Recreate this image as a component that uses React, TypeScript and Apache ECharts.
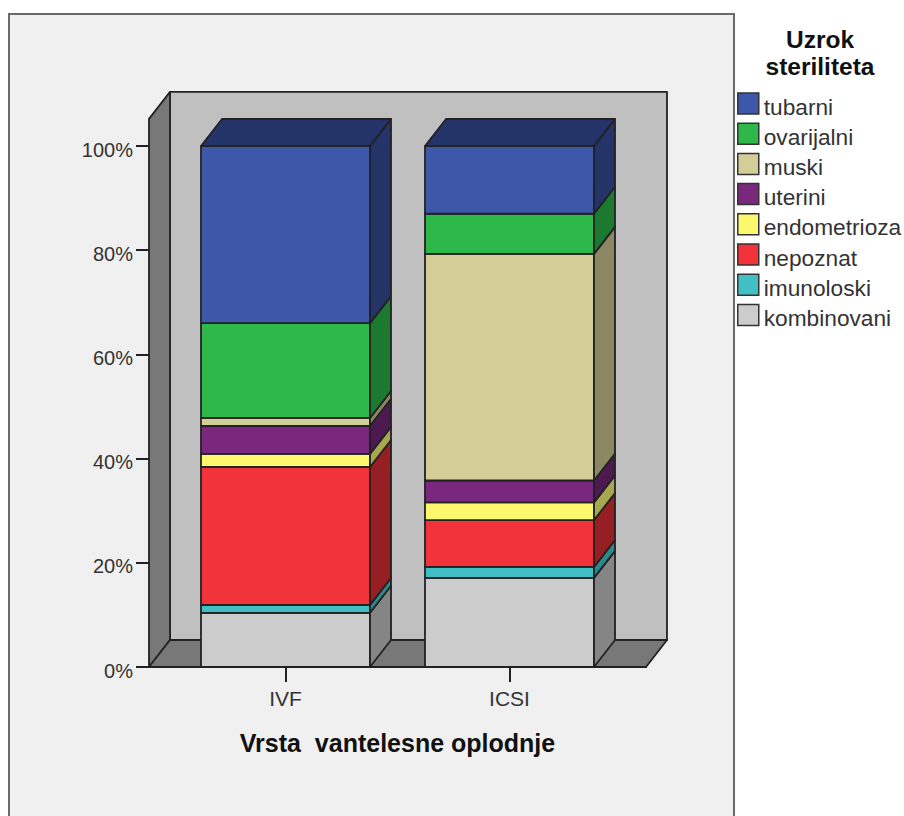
import React, { useEffect, useRef } from "react";
import * as echarts from "echarts";

const categories = ["IVF", "ICSI"];
const causes = ["kombinovani", "imunoloski", "nepoznat", "endometrioza", "uterini", "muski", "ovarijalni", "tubarni"];
const kombinovani = [10.4, 17.1];
const imunoloski = [1.5, 2.1];
const nepoznat = [26.5, 9.0];
const endometrioza = [2.5, 3.4];
const uterini = [5.4, 4.2];
const muski = [1.5, 43.5];
const ovarijalni = [18.2, 7.7];
const tubarni = [34.0, 13.0];
const seriesValues = [kombinovani, imunoloski, nepoznat, endometrioza, uterini, muski, ovarijalni, tubarni];
const frontColors = ["#cccccc", "#40c0c4", "#f23339", "#fbf86d", "#79287d", "#d3ce98", "#2eb84a", "#3d57a9"];
const sideColors = ["#858585", "#2a8a8c", "#951f23", "#a8a650", "#4c1a50", "#8a8762", "#1c7a30", "#253468"];
const legendOrder = ["tubarni", "ovarijalni", "muski", "uterini", "endometrioza", "nepoznat", "imunoloski", "kombinovani"];
const tickLabels = ["0%", "20%", "40%", "60%", "80%", "100%"];

const LINE = "#222222";
const DX = 21;
const DY = 27;
const LW = 1.8;

function frameItem(_params: any, api: any) {
  const y0 = api.coord([0, 0])[1];
  const yTop = api.coord([0, 105.2])[1];
  const xl = 149;
  const xr = 646;
  const style = (fill: string) => ({ fill, stroke: LINE, lineWidth: LW, lineJoin: "round" });
  return {
    type: "group",
    children: [
      { type: "rect", shape: { x: xl + DX, y: yTop - DY, width: xr - xl, height: y0 - yTop }, style: style("#c0c0c0") },
      { type: "polygon", shape: { points: [[xl, y0], [xl + DX, y0 - DY], [xl + DX, yTop - DY], [xl, yTop]] }, style: style("#787878") },
      { type: "polygon", shape: { points: [[xl, y0], [xl + DX, y0 - DY], [xr + DX, y0 - DY], [xr, y0]] }, style: style("#787878") },
    ],
  };
}

function segmentItem(seriesIndex: number) {
  return (_params: any, api: any) => {
    const cat = api.value(0);
    const base = api.value(1);
    const top = api.value(2);
    const [cx, yB] = api.coord([cat, base]);
    const [, yT] = api.coord([cat, top]);
    const w = api.size([1, 0])[0] * 0.7545;
    const x0 = cx - w / 2;
    const x1 = cx + w / 2;
    const st = (fill: string) => ({ fill, stroke: LINE, lineWidth: LW, lineJoin: "round" });
    const children: any[] = [
      { type: "rect", shape: { x: x0, y: yT, width: w, height: yB - yT }, style: st(frontColors[seriesIndex]) },
      { type: "polygon", shape: { points: [[x1, yB], [x1 + DX, yB - DY], [x1 + DX, yT - DY], [x1, yT]] }, style: st(sideColors[seriesIndex]) },
    ];
    if (seriesIndex === seriesValues.length - 1) {
      children.push({ type: "polygon", shape: { points: [[x0, yT], [x0 + DX, yT - DY], [x1 + DX, yT - DY], [x1, yT]] }, style: st(sideColors[seriesIndex]) });
    }
    return { type: "group", children };
  };
}

function baselineItem(_params: any, api: any) {
  const y0 = api.coord([0, 0])[1];
  return { type: "line", shape: { x1: 136, y1: y0, x2: 647, y2: y0 }, style: { stroke: LINE, lineWidth: 2 } };
}

export default function App() {
  const ref = useRef<HTMLDivElement>(null);
  useEffect(() => {
    document.body.style.margin = "0";
    const chart = echarts.init(ref.current!, undefined, { renderer: "svg" });
    const running = [0, 0];
    const barSeries = causes.map((name, i) => {
      const data = categories.map((_, c) => {
        const base = running[c];
        running[c] = base + seriesValues[i][c];
        return [c, base, running[c]];
      });
      return {
        type: "custom",
        name,
        z: 3,
        itemStyle: { color: frontColors[i] },
        encode: { x: 0, y: [1, 2] },
        renderItem: segmentItem(i),
        data,
      };
    });
    chart.setOption({
      animation: false,
      backgroundColor: "#ffffff",
      textStyle: { fontFamily: "Liberation Sans" },
      title: {
        text: "Uzrok\nsteriliteta",
        left: 815,
        top: 21,
        textAlign: "center",
        textStyle: { fontSize: 24.5, fontWeight: "bold", color: "#111", lineHeight: 27, fontFamily: "Liberation Sans" },
      },
      legend: {
        orient: "vertical",
        left: 732,
        top: 84,
        data: legendOrder,
        icon: "rect",
        itemWidth: 21,
        itemHeight: 21,
        itemGap: 1.2,
        selectedMode: false,
        itemStyle: { borderColor: "#333", borderWidth: 1.5 },
        formatter: (name: string) => `{t|${name}}`,
        textStyle: {
          rich: { t: { fontSize: 22.7, lineHeight: 20, padding: [6, 0, 0, 0], color: "#333", fontFamily: "Liberation Sans" } },
        },
      },
      grid: { left: 173.5, width: 448, top: 146, height: 521 },
      xAxis: {
        type: "category",
        data: categories,
        axisLine: { show: false },
        axisTick: { show: true, alignWithLabel: true, length: 15, lineStyle: { color: LINE, width: 2 } },
        axisLabel: { fontSize: 21, color: "#333", margin: 21, interval: 0 },
        name: "Vrsta  vantelesne oplodnje",
        nameLocation: "middle",
        nameGap: 63,
        nameTextStyle: { fontSize: 25, fontWeight: "bold", color: "#111" },
      },
      yAxis: {
        type: "value",
        min: 0,
        max: 100,
        interval: 20,
        offset: 24.5,
        axisLine: { show: false },
        axisTick: { show: true, length: 13, lineStyle: { color: LINE, width: 2 } },
        splitLine: { show: false },
        axisLabel: { fontSize: 20, color: "#333", margin: 16, verticalAlign: "top", lineHeight: 7, formatter: (v: number) => tickLabels[v / 20] },
      },
      graphic: [
        { type: "rect", z: -10, shape: { x: 9, y: 14, width: 725, height: 810 }, style: { fill: "#f0f0f0", stroke: "#6a6a6a", lineWidth: 2 } },
      ],
      series: [
        { type: "custom", name: "frame", z: 1, silent: true, renderItem: frameItem, data: [[0]] },
        ...barSeries,
        { type: "custom", name: "baseline", z: 4, silent: true, renderItem: baselineItem, data: [[0]] },
      ],
    });
    return () => chart.dispose();
  }, []);
  return <div ref={ref} style={{ width: 904, height: 816 }} />;
}
